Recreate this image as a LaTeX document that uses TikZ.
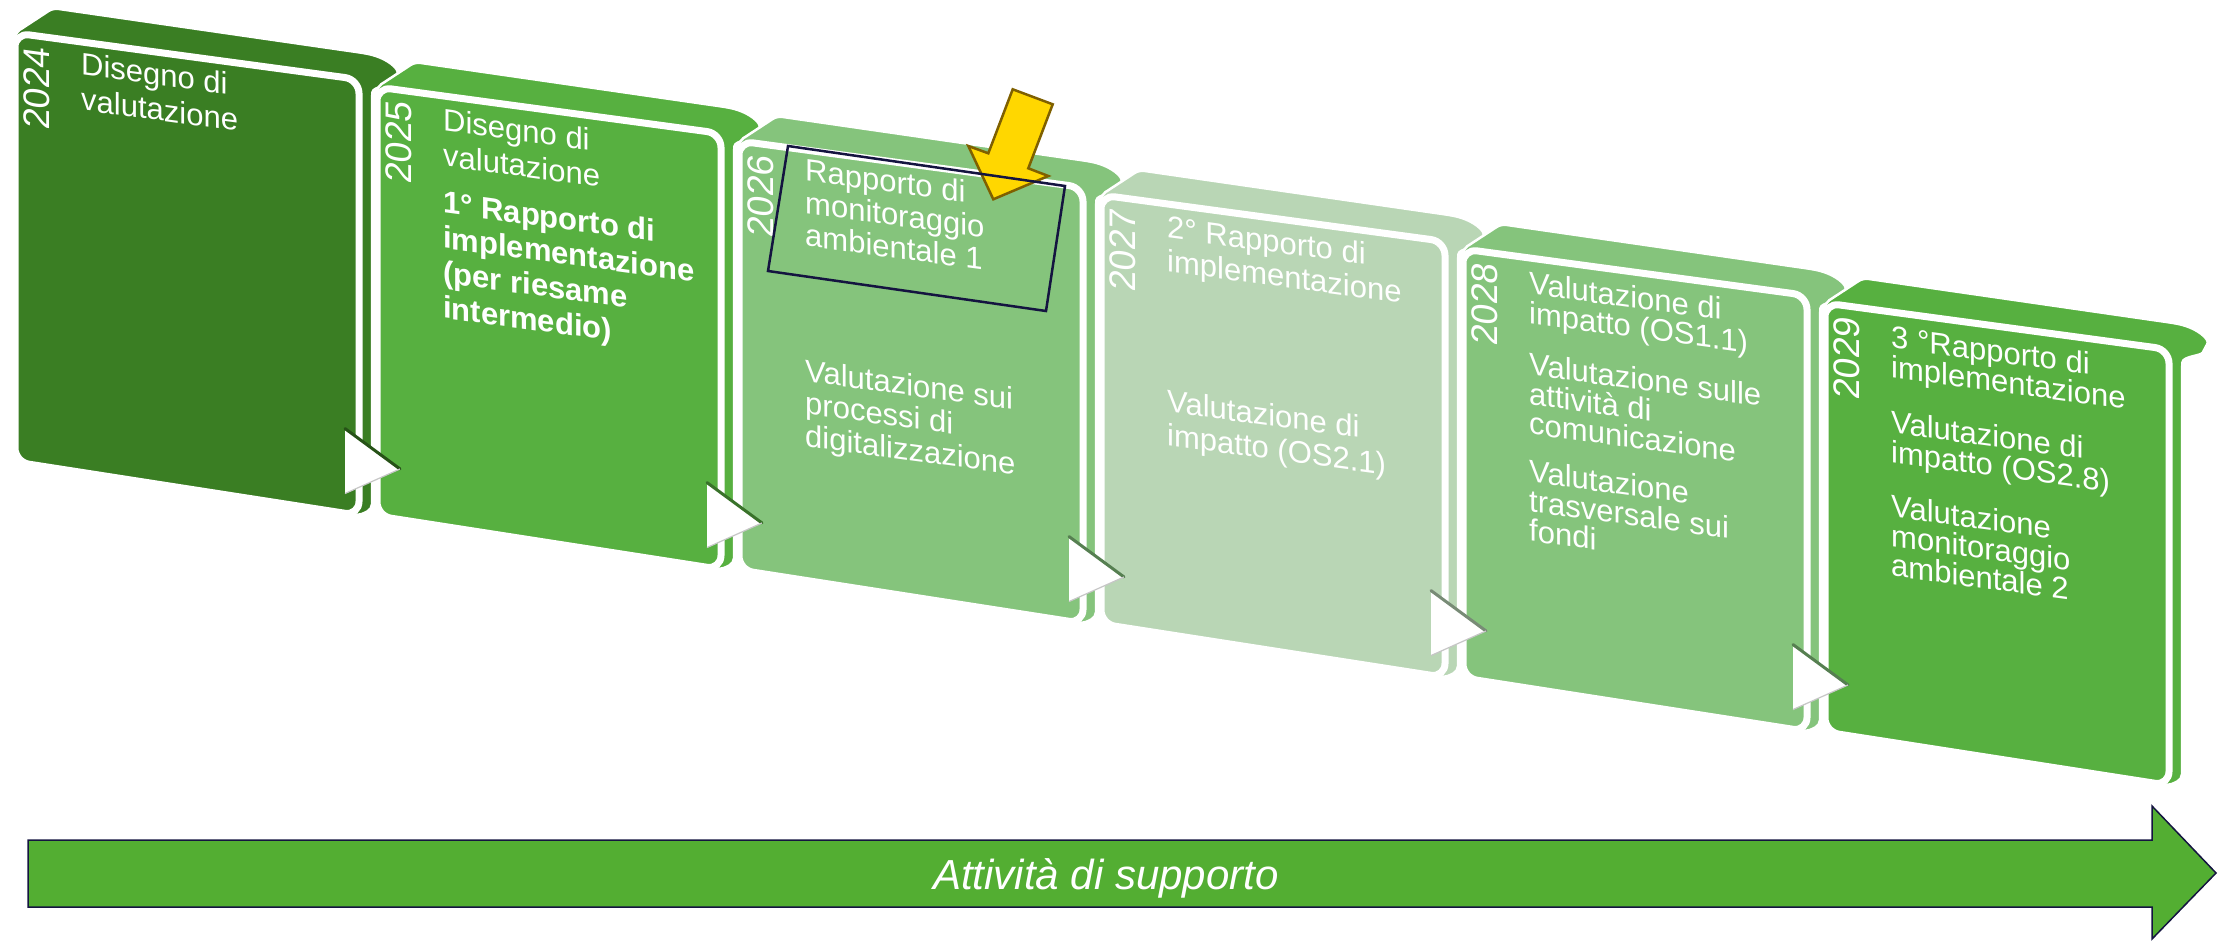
\documentclass[tikz,border=0pt]{standalone}
\usepackage{fontspec}
\setmainfont{Liberation Sans}
\definecolor{gA}{RGB}{58,126,35}
\definecolor{gB}{RGB}{87,176,64}
\definecolor{gC}{RGB}{133,196,124}
\definecolor{gD}{RGB}{185,214,181}
\definecolor{arrowG}{RGB}{83,174,50}
\definecolor{navyline}{RGB}{20,20,64}
\definecolor{goldfill}{RGB}{255,215,0}
\definecolor{olivedge}{RGB}{127,96,0}
\newcommand\cardfont[1]{\fontsize{31}{#1}\selectfont\lineskiplimit=-100pt\lineskip=0pt}
\tikzset{
  cardside/.style={fill=#1, draw=white, line width=2.5, rounded corners=5},
  cardfront/.style={fill=#1, draw=white, line width=7, rounded corners=14},
  yeartxt/.style={text=white, font=\fontsize{37}{40}\selectfont, rotate=90, inner sep=0pt, transform shape},
  bodytxt/.style={text=white, anchor=base west, align=left, inner sep=0pt, transform shape},
  trishade/.style={line width=3, draw=#1!65!black, line cap=round},
}
\newcommand\drawcard[2]{% colour, shift
  \begin{scope}[shift={#2}, yslant=-0.135]
    \path[cardside=#1] (0,0) -- (38,-30) -- (350,-27) .. controls (372,-25) and (385,-16) .. (380,-6) .. controls (376,2) and (358,5) .. (357,16) -- (357,428) -- (344,436) -- (0,429) -- cycle;
    \path[cardfront=#1] (0,0) -- (344,0) -- (344,436) -- (0,429) -- cycle;
  \end{scope}}
\newcommand\drawtri[2]{% colour, shift
  \begin{scope}[shift={#2}, yslant=-0.135]
    \fill[white] (330,351) -- (385,384) -- (330,416) -- cycle;
    \draw[trishade=#1] (330,351) -- (385,384);
    \draw[gray!45, line width=1.2] (385,384) -- (330,416);
  \end{scope}}
\begin{document}
\begin{tikzpicture}[x=1pt, y=-1pt]
\useasboundingbox (0,0) rectangle (2224,940);
% cards
\drawcard{gA}{(15,33)}
\drawcard{gB}{(377,87)}
\drawcard{gC}{(739,141)}
\drawcard{gD}{(1101,195)}
\drawcard{gC}{(1463,249)}
\drawcard{gB}{(1825,303)}
% texts (each node is anchored at the baseline of its last line)
\begin{scope}[shift={(15,33)}, yslant=-0.135]
  \node[yeartxt] (y2024) at (22,52) {2024};
  \node[bodytxt, font=\cardfont{35}] (c1) at (66,68) {Disegno di\\valutazione};
\end{scope}
\begin{scope}[shift={(377,87)}, yslant=-0.135]
  \node[yeartxt] (y2025) at (22,52) {2025};
  \node[bodytxt, font=\cardfont{35}] (c2) at (66,222) {Disegno di\\valutazione\\[12pt]
    \bfseries 1° Rapporto di\\\bfseries implementazione\\\bfseries (per riesame\\\bfseries intermedio)};
\end{scope}
\begin{scope}[shift={(739,141)}, yslant=-0.135]
  \node[yeartxt] (y2026) at (22,52) {2026};
  \node[bodytxt, font=\cardfont{32.5}] (c3) at (66,296.5) {Rapporto di\\monitoraggio\\ambientale 1\\[103pt]
    Valutazione sui\\processi di\\digitalizzazione};
\end{scope}
\begin{scope}[shift={(1101,195)}, yslant=-0.135]
  \node[yeartxt] (y2027) at (22,52) {2027};
  \node[bodytxt, font=\cardfont{33.5}] (c4) at (66,241.5) {2° Rapporto di\\implementazione\\[107pt]
    Valutazione di\\impatto (OS2.1)};
\end{scope}
\begin{scope}[shift={(1463,249)}, yslant=-0.135]
  \node[yeartxt] (y2028) at (22,52) {2028};
  \node[bodytxt, font=\cardfont{29.5}] (c5) at (66,283) {Valutazione di\\impatto (OS1.1)\\[22pt]
    Valutazione sulle\\attività di\\comunicazione\\[18.5pt]
    Valutazione\\trasversale sui\\fondi};
\end{scope}
\begin{scope}[shift={(1825,303)}, yslant=-0.135]
  \node[yeartxt] (y2029) at (22,52) {2029};
  \node[bodytxt, font=\cardfont{29.5}] (c6) at (66,264) {3 °Rapporto di\\implementazione\\[26pt]
    Valutazione di\\impatto (OS2.8)\\[25pt]
    Valutazione\\monitoraggio\\ambientale 2};
\end{scope}
% triangles
\drawtri{gA}{(15,33)}
\drawtri{gB}{(377,87)}
\drawtri{gC}{(739,141)}
\drawtri{gD}{(1101,195)}
\drawtri{gC}{(1463,249)}
% yellow arrow and highlight
\draw[fill=goldfill, draw=olivedge, line width=2.5] (1012.7,89.3) -- (1052.7,104.3) -- (1028.3,168.3) -- (1048.3,176) -- (993.3,199.3) -- (968.3,146) -- (988.3,153.3) -- cycle;
\draw[navyline, line width=2.5] (788,146) -- (1065,186) -- (1046,311) -- (768,271) -- cycle;
% bottom arrow
\draw[fill=arrowG, draw=navyline, line width=1.5] (28,840) -- (2152,840) -- (2152,806) -- (2216,873) -- (2152,939) -- (2152,907) -- (28,907) -- cycle;
\node[text=white, font=\fontsize{42}{46}\selectfont\itshape, anchor=base, inner sep=0pt] (sup) at (1106,889) {Attività di supporto};
\end{tikzpicture}
\end{document}
